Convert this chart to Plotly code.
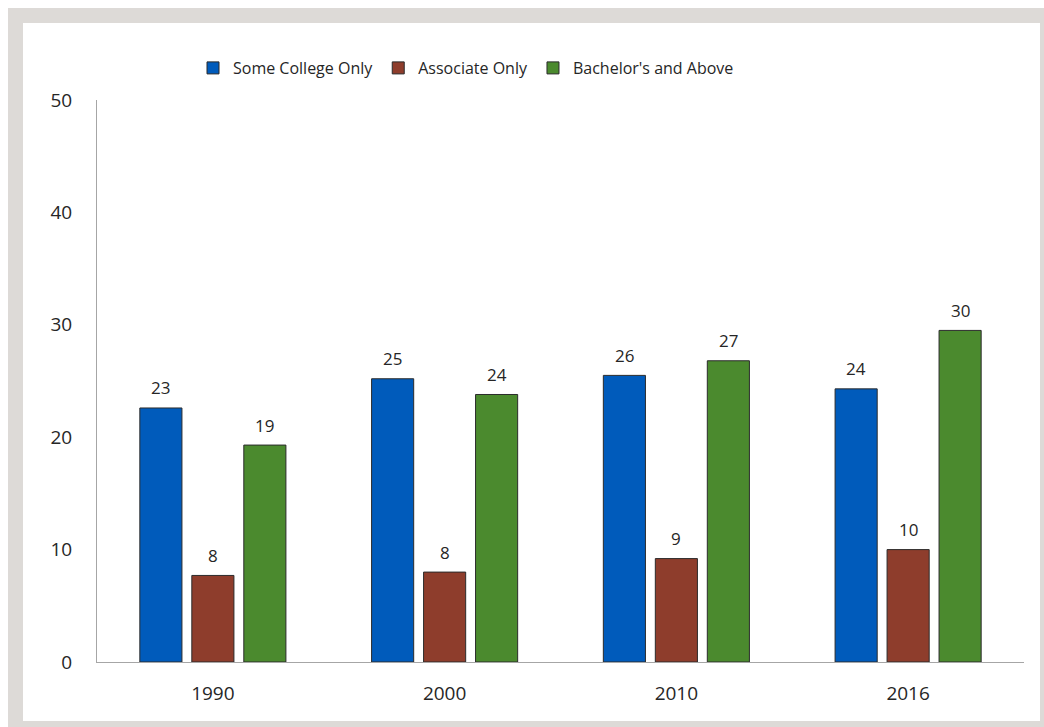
import plotly.graph_objects as go

years = ["1990", "2000", "2010", "2016"]
some_college = [22.6, 25.2, 25.5, 24.3]
associate = [7.7, 8.0, 9.2, 10.0]
bachelors = [19.3, 23.8, 26.8, 29.5]
series_names = ["Some College Only", "Associate Only", "Bachelor's and Above"]
colors = ["#005BBB", "#8E3D2C", "#4B8A2E"]
y_ticks = [0, 10, 20, 30, 40, 50]

FONT = "Open Sans, Noto Sans, sans-serif"
TXT = "#262626"

# figure geometry (pixels)
W, H = 1044, 727
L, R, T, B = 97, 20, 100, 65
pw, ph = W - L - R, H - T - B

def px(x):
    return (x - L) / pw

def py(y):
    return (H - B - y) / ph

fig = go.Figure()
all_vals = [some_college, associate, bachelors]
for name, vals, col in zip(series_names, all_vals, colors):
    fig.add_trace(go.Bar(
        x=years, y=vals, name=name,
        marker=dict(color=col, line=dict(color="#2b2b2b", width=1)),
        hoverinfo="x+y",
    ))

# data labels above bars (category index used as x position)
shifts = [-52, 0, 52]
for vals, sh in zip(all_vals, shifts):
    for i, v in enumerate(vals):
        fig.add_annotation(
            x=i, y=v, xref="x", yref="y", text=str(int(v + 0.5)),
            showarrow=False, xshift=sh, yshift=20,
            font=dict(family=FONT, size=17, color=TXT),
        )

# frame
fig.add_shape(type="rect", xref="paper", yref="paper",
              x0=px(8), x1=px(W + 10), y0=py(H + 10), y1=py(8),
              fillcolor="#dddad7", line=dict(width=0), layer="below")
fig.add_shape(type="rect", xref="paper", yref="paper",
              x0=px(23), x1=px(1040), y0=py(721), y1=py(23),
              fillcolor="white", line=dict(width=0), layer="below")

fig.update_layout(
    width=W, height=H,
    margin=dict(l=L, r=R, t=T, b=B, autoexpand=False),
    paper_bgcolor="white", plot_bgcolor="white",
    barmode="group", bargap=0.327, bargroupgap=0.19,
    font=dict(family=FONT, size=18, color=TXT),
    showlegend=True,
    legend=dict(orientation="h", x=px(466), xanchor="center",
                y=py(68), yanchor="middle",
                font=dict(family=FONT, size=16, color=TXT),
                itemwidth=30,
                bgcolor="rgba(0,0,0,0)"),
    xaxis=dict(type="category", showline=True, linecolor="#a6a6a6", linewidth=1,
               ticks="", showgrid=False, zeroline=False,
               tickfont=dict(family=FONT, size=19, color=TXT),
               ticklabelstandoff=14, fixedrange=True),
    yaxis=dict(range=[0, 50], tickvals=y_ticks, showline=True,
               linecolor="#a6a6a6", linewidth=1, ticks="",
               showgrid=False, zeroline=False,
               tickfont=dict(family=FONT, size=19, color=TXT),
               ticklabelstandoff=20, fixedrange=True),
)

fig.write_html("out.html", config={"displayModeBar": False},
               post_script="document.body.style.margin='0';")
